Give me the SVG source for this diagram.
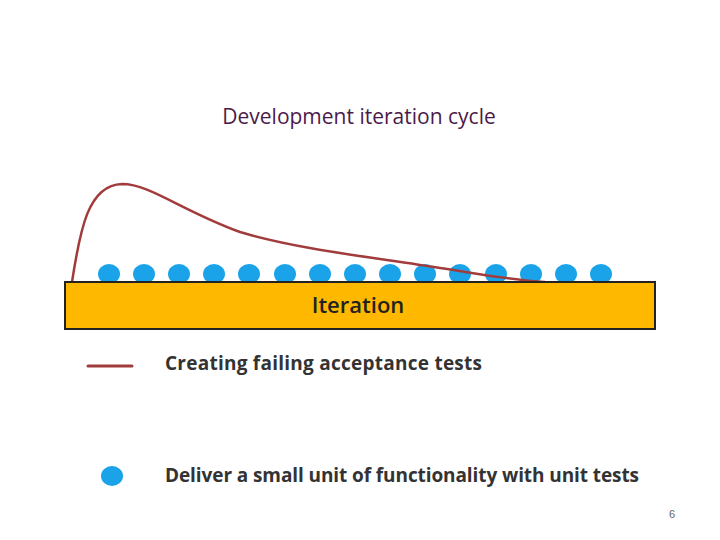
<svg xmlns="http://www.w3.org/2000/svg" width="720" height="540" viewBox="0 0 720 540">
<style>
.dot{fill:#1aa3e8}
.lbl{font-family:"Open Sans","Liberation Sans",sans-serif;font-weight:bold;font-size:19px;fill:#333}
</style>
<rect width="720" height="540" fill="#fff"/>
<text x="359" y="124" text-anchor="middle" font-family="Open Sans,Liberation Sans,sans-serif" font-size="21" fill="#4b1a4b">Development iteration cycle</text>
<g id="dots">
<ellipse class="dot" cx="109" cy="274" rx="11" ry="10"/><ellipse class="dot" cx="144" cy="274" rx="11" ry="10"/><ellipse class="dot" cx="179" cy="274" rx="11" ry="10"/><ellipse class="dot" cx="214" cy="274" rx="11" ry="10"/><ellipse class="dot" cx="249" cy="274" rx="11" ry="10"/><ellipse class="dot" cx="285" cy="274" rx="11" ry="10"/><ellipse class="dot" cx="320" cy="274" rx="11" ry="10"/><ellipse class="dot" cx="355" cy="274" rx="11" ry="10"/><ellipse class="dot" cx="390" cy="274" rx="11" ry="10"/><ellipse class="dot" cx="425" cy="274" rx="11" ry="10"/><ellipse class="dot" cx="460" cy="274" rx="11" ry="10"/><ellipse class="dot" cx="496" cy="274" rx="11" ry="10"/><ellipse class="dot" cx="531" cy="274" rx="11" ry="10"/><ellipse class="dot" cx="566" cy="274" rx="11" ry="10"/><ellipse class="dot" cx="601" cy="274" rx="11" ry="10"/>
</g>
<g id="curve"><path d="M72 282 C80 230 88 185 122 184 C150 184 180 210 240 232 C300 250 380 258 440 268 C480 274 510 280 545 282" fill="none" stroke="#a23c3c" stroke-width="2.5"/></g>
<g id="iteration">
<rect x="65" y="282" width="590" height="47" fill="#ffb800" stroke="#222" stroke-width="2"/>
<text x="358" y="313" text-anchor="middle" font-family="Open Sans,Liberation Sans,sans-serif" font-weight="600" font-size="22" fill="#222">Iteration</text>
</g>
<g id="legend">
<line x1="88" y1="366" x2="132" y2="366" stroke="#a23c3c" stroke-width="3" stroke-linecap="round"/>
<text class="lbl" x="165" y="370" textLength="317">Creating failing acceptance tests</text>
<ellipse class="dot" cx="112" cy="476" rx="11" ry="10"/>
<text class="lbl" x="165" y="482" textLength="474">Deliver a small unit of functionality with unit tests</text>
</g>
<text x="672" y="518" text-anchor="middle" font-family="Liberation Sans,sans-serif" font-size="11" fill="#666">6</text>
</svg>
